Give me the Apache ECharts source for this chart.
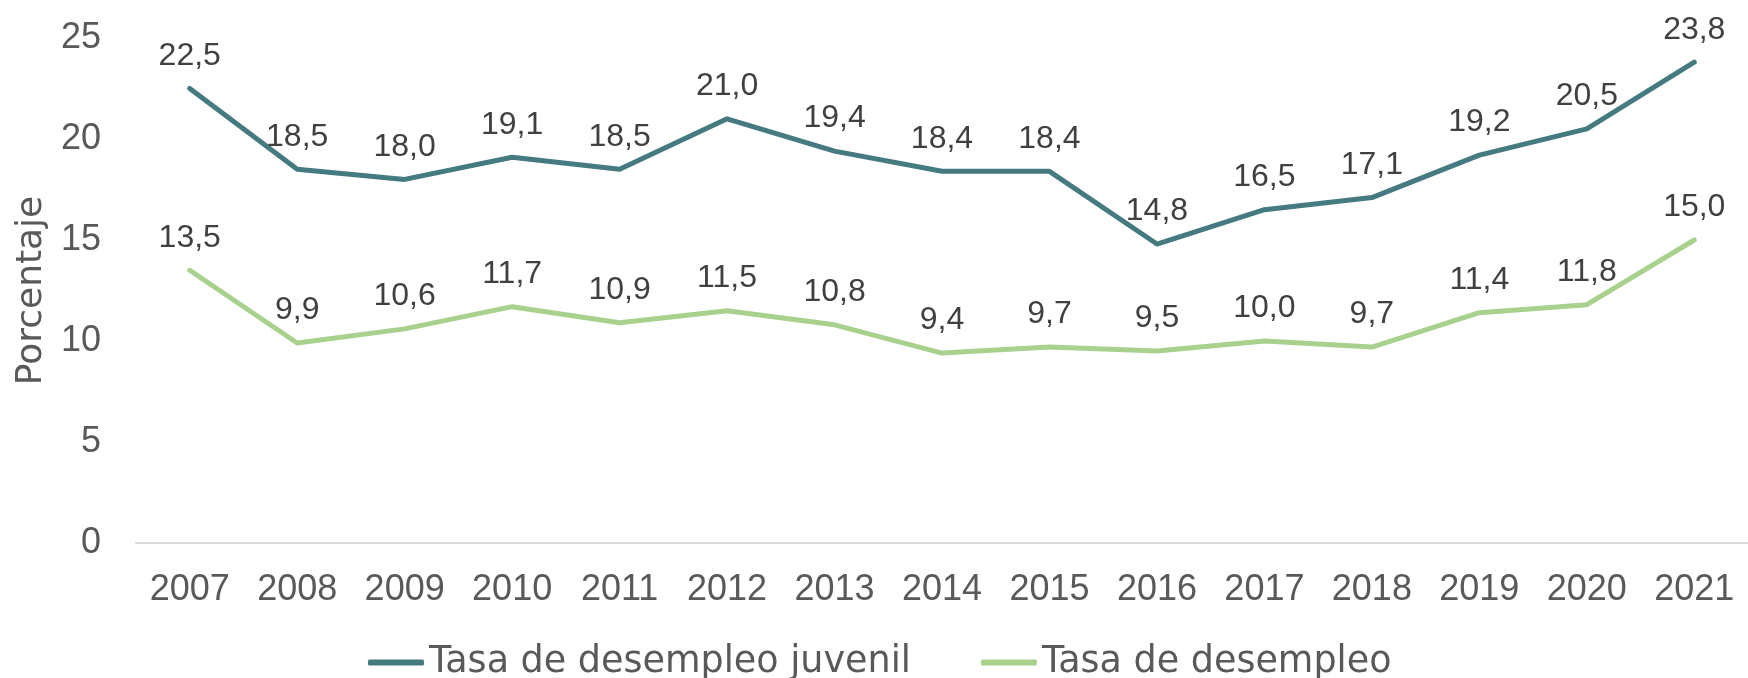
<!DOCTYPE html>
<html>
<head>
<meta charset="utf-8">
<script src="https://cdn.jsdelivr.net/npm/echarts@6/dist/echarts.min.js"></script>
<style>
html,body{margin:0;padding:0;background:#fff;}
#c{width:1748px;height:678px;}
</style>
</head>
<body>
<div id="c"></div>
<script>
var years = ['2007','2008','2009','2010','2011','2012','2013','2014','2015','2016','2017','2018','2019','2020','2021'];
var juvenil = [22.5,18.5,18.0,19.1,18.5,21.0,19.4,18.4,18.4,14.8,16.5,17.1,19.2,20.5,23.8];
var general = [13.5,9.9,10.6,11.7,10.9,11.5,10.8,9.4,9.7,9.5,10.0,9.7,11.4,11.8,15.0];
var seriesNames = ['Tasa de desempleo juvenil','Tasa de desempleo'];
var yTicks = {min:0, max:25, interval:5};

var numFont = '"Liberation Sans", Arial, sans-serif';
var txtFont = '"DejaVu Sans", sans-serif';
function fmt(p){ return p.value.toFixed(1).replace('.', ','); }

var chart = echarts.init(document.getElementById('c'));
chart.setOption({
  animation:false,
  backgroundColor:'#ffffff',
  grid:{left:136, top:38, width:1625, height:505},
  legend:{
    data:seriesNames,
    left:363, top:639,
    icon:'roundRect',
    itemWidth:56, itemHeight:6, itemGap:70,
    textStyle:{fontFamily:txtFont, fontSize:36.5, color:'#595959'}
  },
  xAxis:{
    type:'category', data:years, boundaryGap:true,
    axisLine:{lineStyle:{color:'#d9d9d9', width:2}},
    axisTick:{show:false},
    axisLabel:{fontFamily:numFont, fontSize:36, color:'#595959', margin:29}
  },
  yAxis:{
    type:'value', min:yTicks.min, max:yTicks.max, interval:yTicks.interval,
    name:'Porcentaje', nameLocation:'middle', nameGap:85,
    nameTextStyle:{fontFamily:txtFont, fontSize:36, color:'#595959'},
    axisLine:{show:false}, axisTick:{show:false}, splitLine:{show:false},
    axisLabel:{fontFamily:numFont, fontSize:36, color:'#595959', margin:35}
  },
  series:[
    {name:seriesNames[0], type:'line', data:juvenil, symbol:'circle', symbolSize:1, showSymbol:true,
     lineStyle:{color:'#447A80', width:5, cap:'round', join:'round'},
     itemStyle:{color:'#447A80'},
     label:{show:true, position:'top', distance:16, formatter:fmt,
            fontFamily:numFont, fontSize:32, color:'#404040'}},
    {name:seriesNames[1], type:'line', data:general, symbol:'circle', symbolSize:1, showSymbol:true,
     lineStyle:{color:'#A9D18E', width:5, cap:'round', join:'round'},
     itemStyle:{color:'#A9D18E'},
     label:{show:true, position:'top', distance:16, formatter:fmt,
            fontFamily:numFont, fontSize:32, color:'#404040'}}
  ]
});
</script>
</body>
</html>
